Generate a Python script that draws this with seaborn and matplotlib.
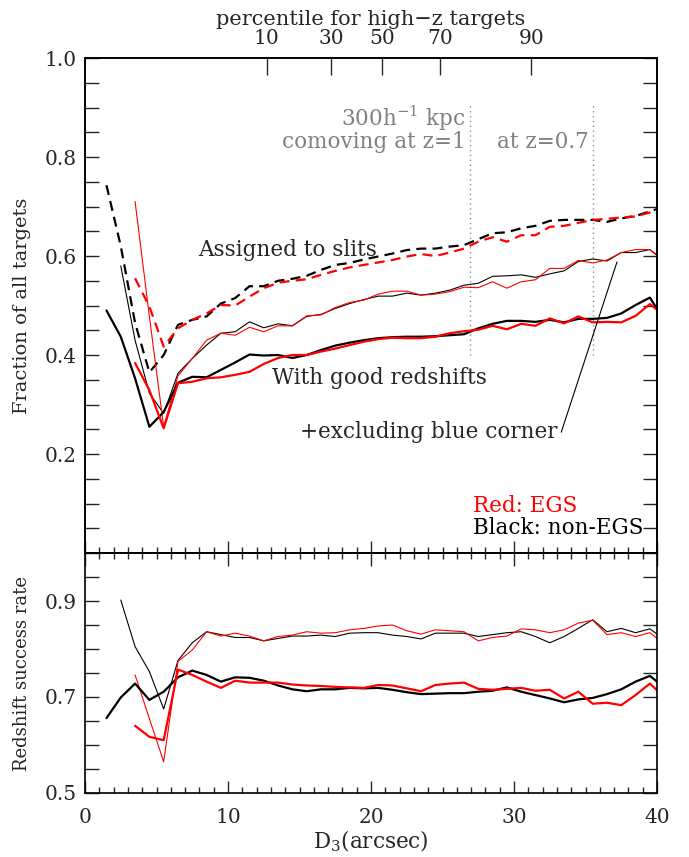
import numpy as np
import pandas as pd
import seaborn as sns
import matplotlib.pyplot as plt
from matplotlib.ticker import MultipleLocator

# bin centres in D3 (arcsec); the last bin sits past the axis edge
d3 = [1.5, 2.5, 3.5, 4.5, 5.5, 6.5, 7.5, 8.5, 9.5, 10.5,
      11.5, 12.5, 13.5, 14.5, 15.5, 16.5, 17.5, 18.5, 19.5, 20.5,
      21.5, 22.5, 23.5, 24.5, 25.5, 26.5, 27.5, 28.5, 29.5, 30.5,
      31.5, 32.5, 33.5, 34.5, 35.5, 36.5, 37.5, 38.5, 39.5, 40.5]

# top panel: fraction of all targets
assigned_non = [0.743, 0.62, 0.465, 0.365, 0.40, 0.461, 0.471, 0.478, 0.504, 0.515,
                0.539, 0.539, 0.550, 0.554, 0.560, 0.572, 0.582, 0.586, 0.593, 0.599,
                0.605, 0.612, 0.615, 0.615, 0.619, 0.622, 0.634, 0.646, 0.648, 0.656,
                0.661, 0.671, 0.673, 0.673, 0.673, 0.669, 0.676, 0.681, 0.690, 0.70]
assigned_egs = [0.555, 0.498, 0.417, 0.454, 0.471, 0.484, 0.501, 0.500,
                0.518, 0.535, 0.546, 0.550, 0.553, 0.562, 0.570, 0.577, 0.582, 0.587,
                0.592, 0.599, 0.604, 0.600, 0.607, 0.615, 0.629, 0.638, 0.629, 0.642,
                0.642, 0.659, 0.661, 0.667, 0.673, 0.675, 0.678, 0.680, 0.688, 0.70]
good_non = [0.580, 0.430, 0.323, 0.282, 0.363, 0.393, 0.420, 0.444, 0.447,
            0.467, 0.455, 0.463, 0.459, 0.478, 0.482, 0.494, 0.504, 0.512, 0.519,
            0.519, 0.525, 0.521, 0.525, 0.531, 0.541, 0.545, 0.559, 0.560, 0.562,
            0.557, 0.564, 0.570, 0.589, 0.594, 0.590, 0.607, 0.607, 0.613, 0.59]
good_egs = [0.710, 0.478, 0.255, 0.358, 0.393, 0.430, 0.444, 0.440,
            0.456, 0.447, 0.459, 0.459, 0.479, 0.481, 0.496, 0.506, 0.511, 0.523,
            0.529, 0.529, 0.521, 0.523, 0.528, 0.537, 0.536, 0.548, 0.535, 0.548,
            0.552, 0.575, 0.575, 0.591, 0.586, 0.592, 0.607, 0.613, 0.613, 0.59]
excl_non = [0.490, 0.437, 0.353, 0.255, 0.285, 0.344, 0.356, 0.355, 0.370, 0.385,
            0.401, 0.399, 0.400, 0.394, 0.400, 0.410, 0.419, 0.425, 0.430, 0.434,
            0.436, 0.437, 0.437, 0.438, 0.440, 0.442, 0.454, 0.463, 0.469, 0.469,
            0.467, 0.471, 0.466, 0.473, 0.473, 0.475, 0.484, 0.501, 0.516, 0.47]
excl_egs = [0.384, 0.329, 0.252, 0.343, 0.346, 0.353, 0.355, 0.360,
            0.366, 0.382, 0.394, 0.400, 0.400, 0.407, 0.413, 0.420, 0.427, 0.432,
            0.435, 0.434, 0.434, 0.437, 0.444, 0.448, 0.451, 0.459, 0.452, 0.463,
            0.459, 0.474, 0.464, 0.478, 0.466, 0.467, 0.466, 0.479, 0.503, 0.48]

# bottom panel: redshift success rate
rate_good_non = [0.902, 0.805, 0.753, 0.675, 0.776, 0.813, 0.836, 0.830, 0.824,
                 0.824, 0.817, 0.822, 0.827, 0.827, 0.829, 0.826, 0.833, 0.834, 0.834,
                 0.829, 0.826, 0.821, 0.833, 0.833, 0.833, 0.826, 0.830, 0.834, 0.836,
                 0.826, 0.813, 0.826, 0.843, 0.861, 0.836, 0.843, 0.834, 0.842, 0.82]
rate_good_egs = [0.746, 0.655, 0.565, 0.774, 0.798, 0.836, 0.827, 0.833,
                 0.827, 0.817, 0.826, 0.829, 0.836, 0.833, 0.834, 0.840, 0.843, 0.848,
                 0.850, 0.838, 0.831, 0.840, 0.838, 0.836, 0.817, 0.824, 0.827, 0.842,
                 0.840, 0.834, 0.840, 0.854, 0.860, 0.830, 0.834, 0.826, 0.834, 0.81]
rate_excl_non = [0.656, 0.699, 0.728, 0.694, 0.711, 0.741, 0.755, 0.746, 0.732, 0.741,
                 0.740, 0.734, 0.724, 0.716, 0.712, 0.716, 0.716, 0.719, 0.718, 0.719,
                 0.715, 0.710, 0.706, 0.707, 0.708, 0.708, 0.711, 0.713, 0.720, 0.711,
                 0.704, 0.697, 0.689, 0.695, 0.698, 0.706, 0.716, 0.732, 0.744, 0.72]
rate_excl_egs = [0.640, 0.617, 0.610, 0.757, 0.746, 0.732, 0.719, 0.734,
                 0.730, 0.730, 0.730, 0.726, 0.724, 0.723, 0.721, 0.720, 0.719, 0.725,
                 0.724, 0.718, 0.712, 0.725, 0.728, 0.730, 0.717, 0.715, 0.717, 0.719,
                 0.713, 0.715, 0.697, 0.711, 0.686, 0.688, 0.683, 0.704, 0.728, 0.70]

pct_pos = [12.7, 17.2, 20.8, 24.8, 31.2]
pct_labels = ["10", "30", "50", "70", "90"]
scale_lines = [26.9, 35.5]

sns.set_style("white")
plt.rcParams['font.family'] = ['DejaVu Serif']
plt.rcParams['mathtext.fontset'] = 'dejavuserif'

fig = plt.figure(figsize=(6.89, 8.57), dpi=100)
ax1 = fig.add_axes([0.1234, 0.3547, 0.8302, 0.5776])
ax2 = fig.add_axes([0.1234, 0.0747, 0.8302, 0.2800])

thick = 1.6
thin = 0.8
dash = (0, (4.5, 2.8))
fs_tick = 14.5
fs_text = 15.5


def draw(ax, y, color, lw, ls="-"):
    x = d3[len(d3) - len(y):]
    sns.lineplot(x=x, y=y, ax=ax, color=color, linewidth=lw, linestyle=ls,
                 estimator=None, sort=False)


# top panel
for v in scale_lines:
    ax1.plot([v, v], [0.40, 0.905], color="#909090", linestyle=(0, (1, 2.5)), linewidth=1.0)
draw(ax1, assigned_non, "black", thick, dash)
draw(ax1, assigned_egs, "red", thick, dash)
draw(ax1, good_non, "black", thin)
draw(ax1, good_egs, "red", thin)
draw(ax1, excl_non, "black", thick)
draw(ax1, excl_egs, "red", thick)

ax1.set_xlim(0, 40)
ax1.set_ylim(0, 1.0)
ax1.set_yticks([0.2, 0.4, 0.6, 0.8, 1.0])
ax1.set_yticklabels(["0.2", "0.4", "0.6", "0.8", "1.0"])
ax1.yaxis.set_minor_locator(MultipleLocator(0.05))
ax1.xaxis.set_major_locator(MultipleLocator(10))
ax1.xaxis.set_minor_locator(MultipleLocator(1))
ax1.tick_params(axis="x", which="both", direction="in", top=False, bottom=True,
                labelbottom=False)
ax1.tick_params(axis="x", which="major", length=9, width=1)
ax1.tick_params(axis="x", which="minor", length=4, width=1)
ax1.tick_params(axis="y", which="both", direction="in", left=True, right=True,
                length=10, width=1, labelsize=fs_tick, pad=6)
ax1.set_ylabel("Fraction of all targets", fontsize=14)
ax1.yaxis.set_label_coords(-0.094, 0.5)

top = ax1.twiny()
top.set_xlim(0, 40)
top.set_xticks(pct_pos)
top.set_xticklabels(pct_labels, fontsize=fs_tick)
top.tick_params(axis="x", direction="in", length=12, width=1, pad=7)
top.xaxis.set_minor_locator(plt.NullLocator())
top.set_xlabel("percentile for high\u2212z targets", fontsize=15, labelpad=3)

gray = "#808080"
ax1.text(26.6, 0.879, "300h$^{-1}$ kpc", color=gray, fontsize=fs_text, ha="right", va="center")
ax1.text(26.6, 0.830, "comoving at z=1", color=gray, fontsize=fs_text, ha="right", va="center")
ax1.text(28.8, 0.830, "at z=0.7", color=gray, fontsize=fs_text, ha="left", va="center")
ax1.text(7.9, 0.612, "Assigned to slits", fontsize=fs_text, ha="left", va="center")
ax1.text(13.1, 0.354, "With good redshifts", fontsize=fs_text, ha="left", va="center")
ax1.text(15.0, 0.244, "+excluding blue corner", fontsize=fs_text, ha="left", va="center")
ax1.plot([33.3, 37.2], [0.244, 0.588], color="black", linewidth=0.8)
ax1.text(27.1, 0.095, "Red: EGS", color="red", fontsize=fs_text, ha="left", va="center")
ax1.text(27.1, 0.050, "Black: non-EGS", color="black", fontsize=fs_text, ha="left", va="center")

# bottom panel
draw(ax2, rate_good_non, "black", thin)
draw(ax2, rate_good_egs, "red", thin)
draw(ax2, rate_excl_non, "black", thick)
draw(ax2, rate_excl_egs, "red", thick)

ax2.set_xlim(0, 40)
ax2.set_ylim(0.5, 1.0)
ax2.set_yticks([0.5, 0.7, 0.9])
ax2.set_yticklabels(["0.5", "0.7", "0.9"])
ax2.yaxis.set_minor_locator(MultipleLocator(0.05))
ax2.set_xticks([0, 10, 20, 30, 40])
ax2.xaxis.set_minor_locator(MultipleLocator(1))
ax2.tick_params(axis="x", which="both", direction="in", top=True, bottom=True,
                labelsize=fs_tick, pad=11)
ax2.tick_params(axis="x", which="major", length=9, width=1)
ax2.tick_params(axis="x", which="minor", length=4, width=1)
ax2.tick_params(axis="y", which="both", direction="in", left=True, right=True,
                length=10, width=1, labelsize=fs_tick, pad=6)
ax2.set_xlabel("D$_3$(arcsec)", fontsize=fs_text, labelpad=1)
ax2.set_ylabel("Redshift success rate", fontsize=13)
ax2.yaxis.set_label_coords(-0.094, 0.5)

for ax in (ax1, ax2, top):
    for s in ax.spines.values():
        s.set_linewidth(1.2)
        s.set_color("black")
    if ax.get_legend() is not None:
        ax.get_legend().remove()

fig.savefig("out.png", dpi=100)
